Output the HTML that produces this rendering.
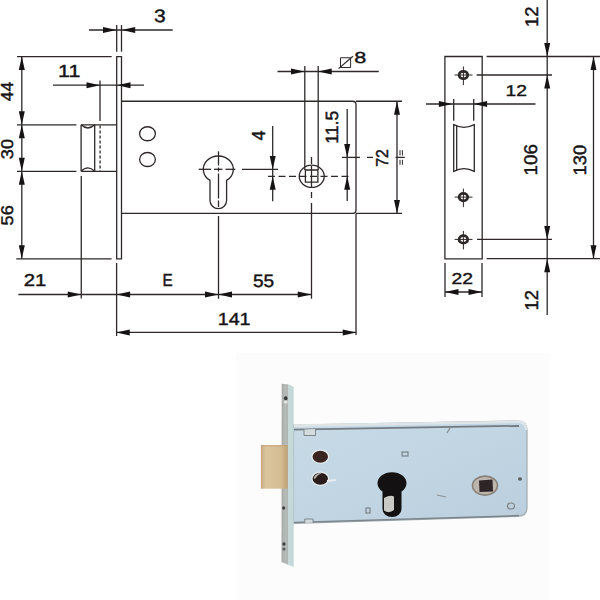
<!DOCTYPE html>
<html><head><meta charset="utf-8"><style>
html,body{margin:0;padding:0;background:#fff;width:600px;height:600px;overflow:hidden}
svg{display:block}
</style></head><body>
<svg width="600" height="600" viewBox="0 0 600 600" style="font-family:'Liberation Sans',sans-serif" text-rendering="geometricPrecision">
<rect x="0" y="0" width="600" height="600" fill="#fff"/>
<g stroke="#2e2829" stroke-width="1.3" fill="none">
<path d="M116.7,56.6 H121.5 V258.8 H116.7 Z" fill="none"/>
<path d="M121.5,101.25 H352.7 Q356,101.25 356,104.5 V210.1 Q356,213.4 352.7,213.4 H121.5" fill="none"/>
<ellipse cx="147.5" cy="133.75" rx="7.9" ry="7" fill="none"/>
<ellipse cx="147.5" cy="159.5" rx="7.9" ry="7" fill="none"/>
<path d="M210,180.4 A15,13.3 0 1 1 226.6,180.4 V200.4 A8.3,8.3 0 0 1 210,200.4 Z" fill="none"/>
<ellipse cx="311.75" cy="176.3" rx="12.5" ry="11.1" fill="none"/>
<path d="M305.4,170 H317.9 V182.1 H305.4 Z" fill="none"/>
<line x1="17" y1="124.8" x2="76.4" y2="124.8"/>
<line x1="17" y1="171.3" x2="76.4" y2="171.3"/>
<line x1="81.1" y1="124.8" x2="116.7" y2="124.8"/>
<line x1="81.1" y1="171.3" x2="116.7" y2="171.3"/>
<line x1="81.1" y1="124.8" x2="81.1" y2="171.3"/>
<line x1="94.7" y1="124.8" x2="94.7" y2="171.3"/>
<path d="M81.1,124.8 Q87.9,131.2 94.7,124.8" fill="none"/>
<path d="M81.1,171.3 Q87.9,164.3 94.7,171.3" fill="none"/>
<line x1="100.1" y1="125.5" x2="100.1" y2="171.3" stroke-dasharray="3,2"/>
<line x1="100" y1="80.5" x2="100" y2="121"/>
<line x1="81.25" y1="176" x2="81.25" y2="298.6"/>
<line x1="89" y1="30" x2="172.7" y2="30"/>
<polygon points="116.50,30.00 103.00,27.00 103.00,33.00" fill="#161314" stroke="none"/>
<polygon points="121.70,30.00 135.20,27.00 135.20,33.00" fill="#161314" stroke="none"/>
<line x1="116.7" y1="25" x2="116.7" y2="51.7"/>
<line x1="121.5" y1="25" x2="121.5" y2="51.7"/>
<text transform="translate(153.90,21.82) scale(21.0970,17.9379)" font-size="1" fill="#161314" stroke="#161314" stroke-width="0.0231" font-weight="normal">3</text>
<line x1="17" y1="56.6" x2="111.7" y2="56.6"/>
<line x1="53" y1="85.2" x2="144" y2="85.2"/>
<polygon points="100.00,85.20 86.50,82.20 86.50,88.20" fill="#161314" stroke="none"/>
<polygon points="117.00,85.20 130.50,82.20 130.50,88.20" fill="#161314" stroke="none"/>
<text transform="translate(58.07,77.00) scale(21.4677,17.4419)" font-size="1" fill="#161314" stroke="#161314" stroke-width="0.0231" font-weight="normal">11</text>
<line x1="21.8" y1="56.6" x2="21.8" y2="258.8"/>
<polygon points="21.80,56.60 18.80,70.10 24.80,70.10" fill="#161314" stroke="none"/>
<polygon points="21.80,124.80 18.80,111.30 24.80,111.30" fill="#161314" stroke="none"/>
<polygon points="21.80,124.80 18.80,138.30 24.80,138.30" fill="#161314" stroke="none"/>
<polygon points="21.80,171.30 18.80,157.80 24.80,157.80" fill="#161314" stroke="none"/>
<polygon points="21.80,171.30 18.80,184.80 24.80,184.80" fill="#161314" stroke="none"/>
<polygon points="21.80,258.80 18.80,245.30 24.80,245.30" fill="#161314" stroke="none"/>
<text transform="translate(13.10,101.15) rotate(-90) scale(17.4528,17.4419)" font-size="1" fill="#161314" stroke="#161314" stroke-width="0.0258" font-weight="normal">44</text>
<text transform="translate(12.93,159.19) rotate(-90) scale(18.1159,16.9492)" font-size="1" fill="#161314" stroke="#161314" stroke-width="0.0257" font-weight="normal">30</text>
<text transform="translate(12.93,225.48) rotate(-90) scale(18.2393,16.9492)" font-size="1" fill="#161314" stroke="#161314" stroke-width="0.0256" font-weight="normal">56</text>
<line x1="16.25" y1="258.8" x2="111.6" y2="258.8"/>
<line x1="116.6" y1="263" x2="116.6" y2="336"/>
<line x1="18.4" y1="294.5" x2="311.25" y2="294.5"/>
<polygon points="81.25,294.50 67.75,291.50 67.75,297.50" fill="#161314" stroke="none"/>
<polygon points="116.60,294.50 130.10,291.50 130.10,297.50" fill="#161314" stroke="none"/>
<polygon points="218.50,294.50 205.00,291.50 205.00,297.50" fill="#161314" stroke="none"/>
<polygon points="218.50,294.50 232.00,291.50 232.00,297.50" fill="#161314" stroke="none"/>
<polygon points="311.25,294.50 297.75,291.50 297.75,297.50" fill="#161314" stroke="none"/>
<text transform="translate(23.68,286.30) scale(20.3356,17.1920)" font-size="1" fill="#161314" stroke="#161314" stroke-width="0.0240" font-weight="normal">21</text>
<text transform="translate(162.44,286.30) scale(15.3137,17.4419)" font-size="1" fill="#161314" stroke="#161314" stroke-width="0.0275" font-weight="normal">E</text>
<text transform="translate(252.94,286.52) scale(19.0291,17.7650)" font-size="1" fill="#161314" stroke="#161314" stroke-width="0.0245" font-weight="normal">55</text>
<line x1="218.5" y1="216" x2="218.5" y2="298.75"/>
<line x1="218.5" y1="151.3" x2="218.5" y2="165.5"/>
<line x1="218.5" y1="167.5" x2="218.5" y2="171.5"/>
<line x1="218.5" y1="173.5" x2="218.5" y2="198.5"/>
<line x1="218.5" y1="200.5" x2="218.5" y2="207"/>
<line x1="311.5" y1="203" x2="311.5" y2="298.75"/>
<line x1="311.5" y1="192" x2="311.5" y2="198"/>
<line x1="356" y1="213.4" x2="356" y2="335"/>
<line x1="116.25" y1="332.4" x2="356.25" y2="332.4"/>
<polygon points="116.25,332.40 129.75,329.40 129.75,335.40" fill="#161314" stroke="none"/>
<polygon points="356.25,332.40 342.75,329.40 342.75,335.40" fill="#161314" stroke="none"/>
<text transform="translate(217.70,324.60) scale(19.6891,17.5872)" font-size="1" fill="#161314" stroke="#161314" stroke-width="0.0241" font-weight="normal">141</text>
<line x1="277.5" y1="71.5" x2="378.75" y2="71.5"/>
<polygon points="304.50,71.50 291.00,68.50 291.00,74.50" fill="#161314" stroke="none"/>
<polygon points="318.20,71.50 331.70,68.50 331.70,74.50" fill="#161314" stroke="none"/>
<line x1="304.8" y1="66" x2="304.8" y2="170"/>
<line x1="318.2" y1="66" x2="318.2" y2="170"/>
<path d="M340.5,57.75 H350.6 V67.5 H340.5 Z" fill="none" stroke-width="1.0"/>
<line x1="338.6" y1="68.6" x2="352.9" y2="56.25" stroke-width="1.2"/>
<text transform="translate(354.17,63.24) scale(21.7021,15.9605)" font-size="1" fill="#161314" stroke="#161314" stroke-width="0.0239" font-weight="normal">8</text>
<line x1="311.5" y1="157" x2="311.5" y2="164"/>
<line x1="311.5" y1="166" x2="311.5" y2="187"/>
<line x1="198.7" y1="169.3" x2="211" y2="169.3"/>
<line x1="214" y1="169.3" x2="222.5" y2="169.3"/>
<line x1="225.5" y1="169.3" x2="235.3" y2="169.3"/>
<line x1="268" y1="176.3" x2="352" y2="176.3" stroke-dasharray="7,3.5"/>
<line x1="272.7" y1="126" x2="272.7" y2="201.3"/>
<polygon points="272.70,169.40 269.70,155.90 275.70,155.90" fill="#161314" stroke="none"/>
<polygon points="272.70,176.30 269.70,189.80 275.70,189.80" fill="#161314" stroke="none"/>
<line x1="242" y1="169.4" x2="278" y2="169.4"/>
<text transform="translate(264.50,140.41) rotate(-90) scale(17.8571,18.8953)" font-size="1" fill="#161314" stroke="#161314" stroke-width="0.0245" font-weight="normal">4</text>
<line x1="347.2" y1="109" x2="347.2" y2="201"/>
<polygon points="347.20,157.40 344.20,143.90 350.20,143.90" fill="#161314" stroke="none"/>
<polygon points="347.20,176.30 344.20,189.80 350.20,189.80" fill="#161314" stroke="none"/>
<line x1="342" y1="157.4" x2="360" y2="157.4"/>
<line x1="367" y1="157.4" x2="373" y2="157.4"/>
<text transform="translate(338.22,143.85) rotate(-90) scale(17.7309,17.7650)" font-size="1" fill="#161314" stroke="#161314" stroke-width="0.0254" font-weight="normal">11.5</text>
<line x1="356" y1="101.25" x2="402" y2="101.25"/>
<line x1="356" y1="213.4" x2="402" y2="213.4"/>
<line x1="397" y1="101.25" x2="397" y2="213.4"/>
<polygon points="397.00,101.25 394.00,114.75 400.00,114.75" fill="#161314" stroke="none"/>
<polygon points="397.00,213.40 394.00,199.90 400.00,199.90" fill="#161314" stroke="none"/>
<text transform="translate(388.00,166.81) rotate(-90) scale(15.8259,17.1920)" font-size="1" fill="#161314" stroke="#161314" stroke-width="0.0273" font-weight="normal">72</text>
<line x1="395.5" y1="157.4" x2="404.8" y2="157.4"/>
<line x1="400" y1="150.2" x2="400" y2="155.5" stroke-width="1"/>
<line x1="402.4" y1="150.2" x2="402.4" y2="155.5" stroke-width="1"/>
<line x1="400" y1="159.8" x2="400" y2="164.8" stroke-width="1"/>
<line x1="402.4" y1="159.8" x2="402.4" y2="164.8" stroke-width="1"/>
<path d="M444.9,56.5 H482.2 V258.8 H444.9 Z" fill="none"/>
<ellipse cx="463.4" cy="75" rx="4.3" ry="3.7" fill="none" stroke-width="2.8"/>
<line x1="454.6" y1="75" x2="472.5" y2="75" stroke-width="1"/>
<line x1="463.4" y1="66.5" x2="463.4" y2="85" stroke-width="1"/>
<ellipse cx="463.4" cy="197.1" rx="4.3" ry="3.7" fill="none" stroke-width="2.8"/>
<line x1="454.6" y1="197.1" x2="472.5" y2="197.1" stroke-width="1"/>
<line x1="463.4" y1="188.6" x2="463.4" y2="207.1" stroke-width="1"/>
<ellipse cx="463.4" cy="239.4" rx="4.3" ry="3.7" fill="none" stroke-width="2.8"/>
<line x1="454.6" y1="239.4" x2="472.5" y2="239.4" stroke-width="1"/>
<line x1="463.4" y1="230.9" x2="463.4" y2="249.4" stroke-width="1"/>
<path d="M453.7,124.7 Q464,129.9 474.3,124.7 V171.3 Q464,166.1 453.7,171.3 Z" fill="none"/>
<line x1="456.7" y1="125.5" x2="456.7" y2="170.5"/>
<line x1="426" y1="104" x2="535.5" y2="104"/>
<polygon points="452.40,104.00 438.90,101.00 438.90,107.00" fill="#161314" stroke="none"/>
<polygon points="473.60,104.00 487.10,101.00 487.10,107.00" fill="#161314" stroke="none"/>
<line x1="453.7" y1="99" x2="453.7" y2="120.7"/>
<line x1="473.7" y1="99" x2="473.7" y2="120.7"/>
<text transform="translate(505.54,96.00) scale(19.2698,15.7593)" font-size="1" fill="#161314" stroke="#161314" stroke-width="0.0257" font-weight="normal">12</text>
<line x1="486.6" y1="56.5" x2="600" y2="56.5"/>
<line x1="476.7" y1="75" x2="552" y2="75"/>
<line x1="477" y1="239.4" x2="552" y2="239.4"/>
<line x1="486.6" y1="258.7" x2="600" y2="258.7"/>
<line x1="547.2" y1="0" x2="547.2" y2="315"/>
<polygon points="547.20,56.50 544.20,43.00 550.20,43.00" fill="#161314" stroke="none"/>
<polygon points="547.20,75.00 544.20,88.50 550.20,88.50" fill="#161314" stroke="none"/>
<polygon points="547.20,239.40 544.20,225.90 550.20,225.90" fill="#161314" stroke="none"/>
<polygon points="547.20,258.70 544.20,272.20 550.20,272.20" fill="#161314" stroke="none"/>
<line x1="593.5" y1="56.5" x2="593.5" y2="258.7"/>
<polygon points="593.50,56.50 590.50,70.00 596.50,70.00" fill="#161314" stroke="none"/>
<polygon points="593.50,258.70 590.50,245.20 596.50,245.20" fill="#161314" stroke="none"/>
<text transform="translate(537.90,26.89) rotate(-90) scale(18.2556,18.3381)" font-size="1" fill="#161314" stroke="#161314" stroke-width="0.0246" font-weight="normal">12</text>
<text transform="translate(536.82,175.43) rotate(-90) scale(18.7984,18.3616)" font-size="1" fill="#161314" stroke="#161314" stroke-width="0.0242" font-weight="normal">106</text>
<text transform="translate(585.62,175.39) rotate(-90) scale(18.2872,17.9379)" font-size="1" fill="#161314" stroke="#161314" stroke-width="0.0248" font-weight="normal">130</text>
<text transform="translate(538.00,310.39) rotate(-90) scale(18.2556,18.6246)" font-size="1" fill="#161314" stroke="#161314" stroke-width="0.0244" font-weight="normal">12</text>
<line x1="445" y1="263" x2="445" y2="297"/>
<line x1="482" y1="263" x2="482" y2="297"/>
<line x1="445" y1="292" x2="482" y2="292"/>
<polygon points="445.00,292.00 458.50,289.00 458.50,295.00" fill="#161314" stroke="none"/>
<polygon points="482.00,292.00 468.50,289.00 468.50,295.00" fill="#161314" stroke="none"/>
<text transform="translate(451.43,284.00) scale(19.3676,15.7593)" font-size="1" fill="#161314" stroke="#161314" stroke-width="0.0256" font-weight="normal">22</text>
</g>
<g fill="#2e2829" stroke="none">
</g>
<defs>
<linearGradient id="bodyg" x1="0" y1="0" x2="1" y2="1">
<stop offset="0" stop-color="#c8dae6"/><stop offset="0.5" stop-color="#c1d5e3"/><stop offset="1" stop-color="#bacedd"/>
</linearGradient>
<linearGradient id="brass" x1="0" y1="0" x2="1" y2="0">
<stop offset="0" stop-color="#c8ae84"/><stop offset="0.2" stop-color="#dcc69e"/><stop offset="0.75" stop-color="#d4bc92"/><stop offset="1" stop-color="#bea074"/>
</linearGradient>
<linearGradient id="fpg" x1="0" y1="0" x2="1" y2="0">
<stop offset="0" stop-color="#a4a8a6"/><stop offset="0.3" stop-color="#b8bcb9"/><stop offset="0.5" stop-color="#b0b4b2"/><stop offset="0.55" stop-color="#c6dad8"/><stop offset="1" stop-color="#c2d8d8"/>
</linearGradient>
</defs>
<rect x="236" y="353" width="314" height="247" fill="#fcfcfc"/>
<!-- body -->
<path d="M293.5,425 L518,421 Q527,421 527,430 V507.5 Q527,516 518,516.3 L293.5,523.5 Z" fill="url(#bodyg)" stroke="#a0aaaf" stroke-width="1.2"/>
<path d="M294,425.6 L518,421.8 Q526,421.8 526.2,430" fill="none" stroke="#dfe5e7" stroke-width="2.6"/>
<path d="M294,429.6 L519,425.8" fill="none" stroke="#737c82" stroke-width="1.7"/>
<path d="M294,522.6 L519,515.6" fill="none" stroke="#7d868b" stroke-width="1.5"/>
<path d="M304,429.5 V435.5 H315.5 V428.9" fill="#d4dcde" stroke="#7d868b" stroke-width="1"/>
<path d="M304.8,523 V519 H313 V522.6" fill="#d4dcde" stroke="#7d868b" stroke-width="1"/>
<!-- faceplate -->
<path d="M281.7,383.7 L289,384.5 L293.7,387 V567 L281.5,562 Z" fill="url(#fpg)"/>
<ellipse cx="285.7" cy="402" rx="2" ry="1.6" fill="#e4e6e4"/><ellipse cx="285.7" cy="398.3" rx="1.8" ry="2" fill="#353838"/>
<ellipse cx="284" cy="544" rx="1.6" ry="1.8" fill="#3c4040"/>
<ellipse cx="284" cy="549" rx="1.6" ry="1.5" fill="#585c5c"/>
<ellipse cx="283.7" cy="508" rx="1.6" ry="1.8" fill="#404444"/>
<!-- latch -->
<rect x="261" y="445.3" width="26.7" height="43.4" fill="url(#brass)"/>
<line x1="261" y1="445.8" x2="287.7" y2="445.8" stroke="#c2a070" stroke-width="1"/>
<line x1="261.4" y1="446" x2="261.4" y2="488.5" stroke="#c9a676" stroke-width="0.8"/>
<!-- holes -->
<ellipse cx="320.3" cy="456.7" rx="9" ry="7.2" fill="#e6ecee"/><ellipse cx="320.3" cy="478.7" rx="9" ry="7.2" fill="#e6ecee"/>
<ellipse cx="320.3" cy="456.7" rx="7.7" ry="6" fill="#3a2420"/>
<ellipse cx="320.3" cy="478.7" rx="7.7" ry="6" fill="#2a1c1a"/>
<path d="M313.5,478 Q316,472.6 322,473 Q317,475 315,479 Z" fill="#b8b8b4"/>
<!-- keyhole -->
<path d="M382.5,491.5 A14.5,11 0 1 1 401.5,491.5 V509 A9.5,8 0 0 1 382.5,509 Z" fill="#131111"/>
<path d="M384,498 Q390,494.5 394,496.5 V510 Q389,514 384,510.5 Z" fill="#c9c9c6"/>
<!-- hub -->
<ellipse cx="485" cy="485.6" rx="12.5" ry="9.5" fill="#bdb6ae" stroke="#8a8078" stroke-width="1.6"/>
<path d="M479,480.5 L492.5,479.5 L493,491.5 L479.5,492 Z" fill="#2e2626"/>
<!-- marks -->
<rect x="402" y="452" width="6" height="4" fill="none" stroke="#6d7478" stroke-width="1"/>
<rect x="366" y="508" width="4" height="5" fill="none" stroke="#6d7478" stroke-width="1"/>
<line x1="447" y1="433" x2="450" y2="428" stroke="#8b9296" stroke-width="1.4"/>
<line x1="437" y1="495" x2="446" y2="497" stroke="#8b9296" stroke-width="1.2"/>
<ellipse cx="520" cy="479" rx="2" ry="1.8" fill="#585e60"/>
<ellipse cx="511" cy="506" rx="3.5" ry="3" fill="none" stroke="#7c8488" stroke-width="1.2"/>
<line x1="327" y1="481" x2="336" y2="480" stroke="#e8ecee" stroke-width="2"/>

</svg>
</body></html>
